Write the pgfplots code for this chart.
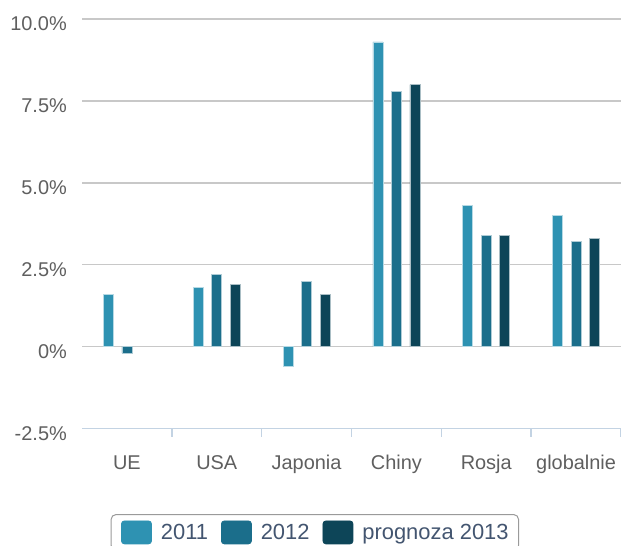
\documentclass[border=0pt]{standalone}
\usepackage{fontspec}
\setmainfont{Liberation Sans}
\usepackage{pgfplots}
\pgfplotsset{compat=1.18}
\definecolor{cA}{HTML}{2E92B2}
\definecolor{cB}{HTML}{1B6E8B}
\definecolor{cC}{HTML}{0D4558}
\definecolor{gridc}{HTML}{C8C8C8}
\definecolor{axc}{HTML}{C3D3E3}
\definecolor{tickc}{HTML}{5F5F5F}
\definecolor{legc}{HTML}{435570}
\definecolor{legb}{HTML}{9A9A9A}
\newcommand\fs{\fontsize{20}{24}\selectfont}
\newcommand\fl{\fontsize{22}{26}\selectfont}
\begin{document}
\begin{tikzpicture}
\useasboundingbox (0,0) rectangle (621bp,-546bp);
\begin{axis}[
  at={(82bp,-428.5bp)}, anchor=south west,
  scale only axis, width=539bp, height=409.5bp,
  xmin=-0.5, xmax=5.5, ymin=-2.5, ymax=10,
  ybar, bar width=10bp,
  axis lines*=left,
  x axis line style={draw=axc, line width=1.5bp},
  y axis line style={draw=none},
  major tick length=0pt,
  ymajorgrids,
  major grid style={draw=gridc, line width=1.5bp},
  ytick={-2.5,0,2.5,5,7.5,10},
  yticklabels={-2.5\%,0\%,2.5\%,5.0\%,7.5\%,10.0\%},
  yticklabel style={font=\fs, text=tickc, inner sep=0pt, anchor=east, xshift=-15bp, yshift=-5bp},
  xtick={0,1,2,3,4,5},
  xticklabels={UE,USA,Japonia,Chiny,Rosja,globalnie},
  xticklabel style={font=\fs, text=tickc, inner sep=0pt, anchor=base, yshift=-40.5bp},
  extra x ticks={0.5,1.5,2.5,3.5,4.5,5.5},
  extra x tick labels={},
  extra x tick style={tick align=outside, major tick length=8bp, tick style={draw=axc, line width=1.5bp}},
  legend columns=-1,
  legend style={at={(0.432,-0.2088)}, anchor=north, draw=legb, line width=1bp, rounded corners=5bp,
    font=\fl, text=legc, inner xsep=10bp, inner ysep=6bp,
    nodes={inner sep=0pt, text=legc},
    /tikz/every odd column/.append style={column sep=9bp},
    /tikz/every even column/.append style={column sep=13bp}},
]
\addplot[fill=cA, draw=cA!35!white, line width=0.8bp, bar shift=-18.5bp,
  legend image code/.code={\fill[cA, rounded corners=3bp] (0bp,-11.5bp) rectangle (30bp,11.5bp);}]
  coordinates {(0,1.6) (1,1.8) (2,-0.6) (3,9.3) (4,4.3) (5,4.0)};
\addplot[fill=cB, draw=cB!35!white, line width=0.8bp, bar shift=0bp,
  legend image code/.code={\fill[cB, rounded corners=3bp] (0bp,-11.5bp) rectangle (30bp,11.5bp);}]
  coordinates {(0,-0.2) (1,2.2) (2,2.0) (3,7.8) (4,3.4) (5,3.2)};
\addplot[fill=cC, draw=cC!35!white, line width=0.8bp, bar shift=18.5bp,
  legend image code/.code={\fill[cC, rounded corners=3bp] (0bp,-11.5bp) rectangle (30bp,11.5bp);}]
  coordinates {(1,1.9) (2,1.6) (3,8.0) (4,3.4) (5,3.3)};
\legend{2011,2012,prognoza 2013}
\end{axis}
\end{tikzpicture}
\end{document}
